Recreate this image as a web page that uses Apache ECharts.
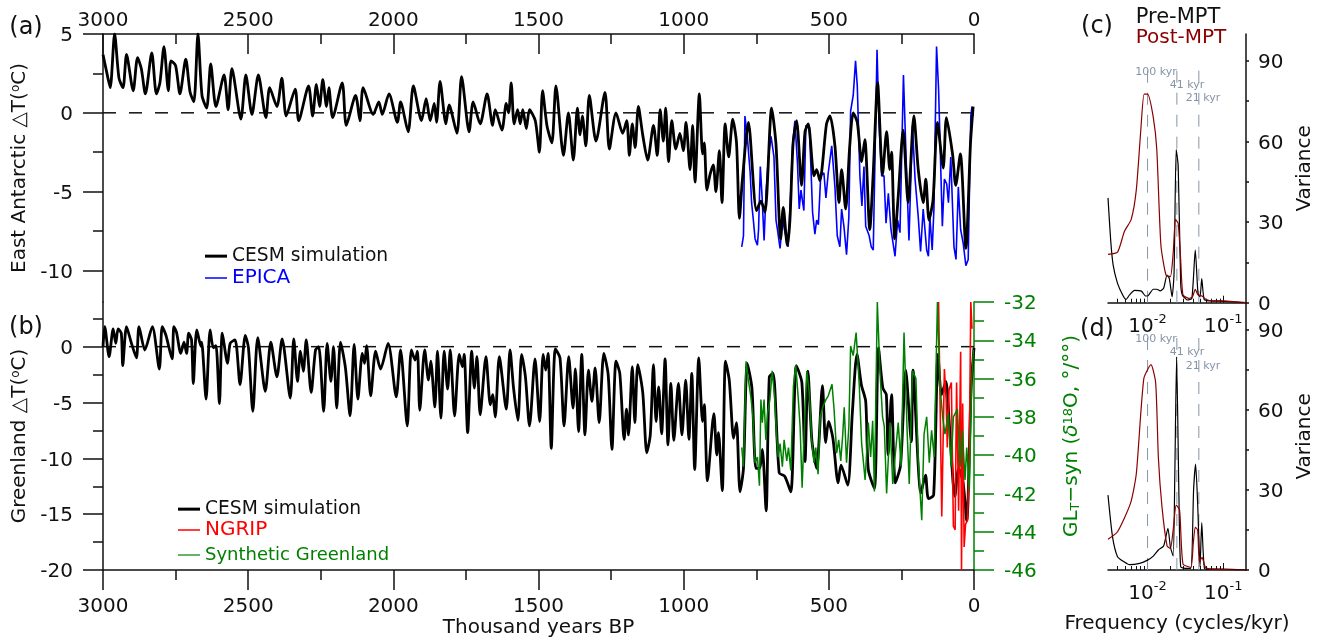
<!DOCTYPE html>
<html>
<head>
<meta charset="utf-8">
<title>CESM temperature</title>
<script src="https://cdn.jsdelivr.net/npm/echarts@6/dist/echarts.min.js"></script>
<style>
html,body{margin:0;padding:0;background:#fff}
#chart{width:1320px;height:640px}
</style>
</head>
<body>
<div id="chart"></div>
<script>
// [thousand years BP, value]
var antarcticCesm = [[3000,3.7],[2983,2.2],[2975,1.6],[2960,5.0],[2945,2.2],[2931,1.6],[2919,3.7],[2896,1.4],[2881,3.5],[2868,2.8],[2854,1.2],[2832,3.8],[2816,1.2],[2804,1.9],[2790,4.2],[2775,1.4],[2766,3.3],[2750,3.0],[2735,1.2],[2715,3.4],[2700,1.3],[2687,0.7],[2673,5.0],[2659,1.1],[2643,0.3],[2629,3.1],[2611,0.4],[2583,2.4],[2569,0.2],[2556,2.8],[2525,-0.4],[2508,2.4],[2487,-0.1],[2465,2.4],[2439,-0.3],[2426,1.6],[2401,0.4],[2384,2.2],[2369,-0.2],[2338,1.5],[2326,-0.5],[2292,1.7],[2278,-0.2],[2265,1.8],[2254,0.4],[2243,2.1],[2230,0.4],[2222,1.6],[2209,-0.3],[2176,1.9],[2162,-0.8],[2130,1.1],[2115,-0.5],[2104,1.6],[2069,-0.1],[2050,0.7],[2038,-0.1],[2015,1.2],[1986,-0.6],[1975,0.7],[1949,-1.2],[1931,1.7],[1903,-0.5],[1887,0.9],[1873,-0.5],[1859,0.6],[1851,-0.6],[1839,2.0],[1819,-0.7],[1808,0.5],[1781,-1.3],[1765,2.3],[1739,-1.2],[1725,0.7],[1701,-0.7],[1677,1.2],[1658,-0.8],[1649,0.2],[1626,-1.1],[1611,0.6],[1603,0],[1594,1.9],[1584,-0.7],[1572,0.2],[1563,-0.7],[1554,0.2],[1542,-1.0],[1531,0.2],[1511,-0.5],[1497,-2.5],[1486,1.4],[1471,-0.8],[1454,-1.9],[1440,1.7],[1414,-2.7],[1397,0],[1380,-3.0],[1366,0.3],[1357,-1.4],[1349,-0.2],[1337,-2.1],[1325,1.1],[1302,-1.8],[1271,1.3],[1256,-2.3],[1233,0],[1210,-1.3],[1196,-0.5],[1187,-2.7],[1177,-0.7],[1167,-2.2],[1156,0.4],[1141,-1.4],[1124,-3.0],[1104,-0.8],[1091,-2.7],[1081,0.2],[1070,-1.8],[1062,0.3],[1052,-3.1],[1041,-0.5],[1027,-2.3],[1013,-1.3],[1001,-2.4],[992,-0.6],[978,-3.6],[969,-0.8],[961,-4.4],[946,1.2],[935,-2.6],[929,-1.9],[920,-4.9],[909,-3.9],[898,-3.3],[889,-5.0],[877,-2.4],[868,-5.7],[857,-0.7],[845,-2.8],[831,-0.4],[818,-1.9],[808,-6.7],[798,-4.3],[777,-0.6],[749,-6.2],[734,-5.6],[720,-6.3],[697,0.3],[682,-2.0],[666,-8.0],[657,-6.0],[643,-8.4],[634,-6.8],[623,-1.9],[611,-0.5],[594,-4.6],[582,-1.2],[571,-0.7],[551,-4.0],[542,-3.6],[531,-4.3],[508,-0.7],[496,-0.2],[479,-2.1],[465,-5.7],[456,-3.6],[442,-6.1],[428,-2.1],[416,0],[402,-0.6],[387,-3.1],[376,-1.7],[359,-7.4],[347,-3.8],[332,1.9],[315,-3.9],[301,-1.2],[290,-3.6],[284,-2.5],[273,-8.0],[261,-5.3],[244,-1.1],[227,-5.7],[207,-0.2],[192,-3.6],[175,-5.7],[166,-4.2],[155,-6.8],[141,-5.5],[126,-0.6],[106,-3.5],[95,-0.3],[74,-2.6],[63,-4.6],[47,-2.6],[28,-8.6],[12,-1.9],[3,0.4]];
var epica = [[800,-8.5],[794,-7.8],[789,-0.2],[780,-1.7],[771,-3.8],[766,-5.7],[760,-6.8],[754,-8.0],[746,-8.4],[742,-7.4],[736,-3.4],[730,-5.3],[723,-8.1],[716,-4.9],[708,-2.8],[699,-1.5],[689,-2.8],[682,-6.8],[677,-7.4],[668,-8.6],[659,-6.8],[651,-7.6],[640,-8.5],[631,-4.9],[625,-2.1],[617,-0.5],[608,-3.2],[602,-6.1],[596,-4.9],[586,-6.2],[579,-0.8],[567,-0.9],[561,-3.8],[556,-6.3],[548,-7.7],[542,-6.8],[536,-7.1],[528,-4.0],[517,-3.8],[510,-5.4],[502,-3.8],[490,-2.1],[479,-4.7],[471,-7.8],[462,-8.5],[456,-6.1],[448,-7.2],[439,-9.0],[431,-6.6],[425,0.1],[416,1.1],[408,3.3],[402,1.7],[393,-4.0],[386,-5.9],[379,-3.4],[373,-7.2],[361,-7.8],[354,-8.5],[347,-8.7],[334,4.0],[327,-0.7],[318,-4.0],[310,-4.0],[303,-7.0],[295,-5.1],[286,-7.4],[272,-9.1],[263,-6.8],[255,-7.6],[243,2.4],[234,-2.8],[224,-8.1],[212,-0.8],[203,-4.2],[192,-6.6],[184,-8.8],[175,-6.1],[163,-8.7],[157,-9.1],[152,-6.6],[144,-8.7],[138,-6.1],[129,4.2],[122,1.5],[109,-7.2],[102,-4.2],[94,-4.5],[88,-5.7],[80,-2.8],[69,-8.5],[62,-9.3],[54,-4.7],[46,-7.4],[37,-8.3],[28,-9.7],[20,-9.3],[11,-0.2],[7,0.4],[3,-0.2]];
var greenlandCesm = [[3000,0],[2994,1.8],[2979,-0.9],[2965,1.6],[2956,0.3],[2948,1.6],[2937,1.2],[2932,-1.7],[2919,1.8],[2902,0.3],[2885,-1.0],[2876,1.8],[2856,-0.3],[2830,1.8],[2806,-2.0],[2796,1.8],[2783,1.0],[2762,-1.1],[2756,1.8],[2747,1.3],[2732,-0.6],[2721,0.4],[2712,-0.6],[2705,1.2],[2695,0.6],[2689,-3.3],[2677,1.5],[2662,0],[2660,0.4],[2645,-4.7],[2631,1.5],[2620,-0.1],[2611,0.1],[2599,-5.1],[2589,1.2],[2571,-1.5],[2562,0.3],[2545,0.6],[2528,-3.4],[2510,1.0],[2499,-0.1],[2484,-5.8],[2467,0.8],[2441,-4.0],[2422,0.4],[2401,-2.7],[2383,0.7],[2355,-4.6],[2343,0.7],[2330,-3.1],[2320,-0.4],[2310,-2.2],[2300,0.6],[2283,-4.1],[2268,-0.3],[2257,0],[2240,-5.8],[2228,0.3],[2215,-3.1],[2206,0],[2195,-5.5],[2182,0.4],[2165,-1.9],[2149,-6.2],[2135,0.2],[2122,-4.7],[2107,-0.6],[2099,-1.5],[2092,0.1],[2078,-4.4],[2061,-0.4],[2044,-2.0],[2018,0.3],[1990,-4.5],[1975,-0.3],[1952,-7.1],[1938,-0.3],[1925,-1.2],[1917,-0.4],[1909,-5.7],[1892,-0.3],[1879,-3.0],[1871,-1.3],[1857,-5.4],[1848,-0.4],[1836,-6.4],[1825,-0.4],[1813,-3.8],[1804,-0.3],[1789,-6.2],[1773,-0.7],[1762,-1.8],[1756,-0.7],[1744,-7.7],[1730,-0.4],[1721,-3.7],[1712,-0.9],[1701,-6.1],[1681,-0.9],[1666,-5.2],[1658,-4.3],[1649,-6.3],[1635,-0.9],[1611,-5.6],[1598,-0.3],[1586,-3.7],[1571,-6.6],[1558,-0.7],[1545,-2.7],[1531,-7.1],[1512,-1.1],[1496,-6.7],[1484,-0.7],[1475,-2.1],[1467,-0.6],[1456,-9.1],[1442,-0.2],[1426,-1.0],[1412,-7.1],[1396,-0.9],[1381,-5.5],[1373,-2.0],[1362,-7.6],[1351,-0.7],[1340,-7.9],[1328,-2.1],[1316,-4.9],[1305,-1.9],[1291,-6.8],[1275,-0.6],[1260,-2.5],[1247,-9.2],[1233,-1.3],[1220,-2.4],[1205,-8.3],[1197,-5.6],[1190,-7.9],[1177,-1.8],[1168,-6.8],[1158,-1.6],[1141,-4.1],[1127,-9.5],[1115,-7.9],[1104,-1.6],[1095,-6.7],[1086,-3.6],[1076,-7.8],[1064,-1.1],[1054,-8.8],[1044,-3.3],[1034,-8.4],[1018,-3.3],[1006,-7.9],[993,-3.0],[982,-8.3],[972,-2.4],[962,-11.0],[948,-1.0],[935,-6.7],[929,-5.2],[918,-12.0],[896,-6.0],[886,-9.7],[880,-7.7],[867,-12.9],[856,-1.3],[843,-3.0],[828,-8.2],[818,-6.8],[806,-13.0],[794,-10.9],[781,-1.5],[765,-3.7],[751,-10.9],[738,-10.9],[729,-9.2],[716,-14.7],[705,-2.7],[692,-2.4],[671,-11.3],[652,-11.6],[631,-13.0],[612,-1.7],[593,-3.2],[582,-10.3],[572,-2.2],[558,-8.5],[542,-10.9],[522,-3.5],[511,-8.6],[501,-6.7],[486,-8.2],[468,-12.2],[458,-10.6],[435,-12.4],[419,-5.9],[403,-0.7],[388,-3.4],[373,-4.9],[364,-11.0],[343,-12.7],[329,-0.1],[314,-3.7],[302,-4.3],[296,-9.7],[284,-4.3],[271,-12.2],[253,-10.6],[235,-2.1],[216,-8.5],[210,-2.1],[183,-13.1],[167,-11.5],[157,-13.6],[139,-13.3],[124,-0.7],[112,-4.3],[97,-3.1],[84,-7.3],[66,-13.4],[53,-10.9],[38,-12.1],[25,-15.6],[10,-3.7],[0,-0.1]];
var ngrip = [[122,-32],[111,-43.2],[102,-35.5],[96,-37.1],[92,-39.6],[86,-36.6],[78,-36.2],[71,-43.7],[65,-43.9],[60,-36.2],[53,-42.9],[46,-34.6],[43,-46],[39,-37.3],[34,-44.8],[29,-43.6],[22,-43.4],[16,-39.5],[11,-32],[7,-33.4]];
var syntheticGreenland = [[800,-39.6],[794,-40.6],[785,-35.1],[777,-36.1],[769,-36.9],[762,-37.9],[754,-40.4],[746,-40.1],[739,-41.6],[734,-37.1],[729,-38.3],[723,-37.1],[717,-39.2],[711,-37.8],[703,-37.1],[695,-35.6],[687,-36.9],[680,-39.0],[674,-40.1],[668,-39.4],[660,-40.6],[654,-39.2],[645,-40.3],[639,-39.6],[631,-40.8],[622,-36.4],[614,-35.3],[605,-37.1],[599,-38.5],[592,-41.7],[585,-38.9],[576,-35.6],[567,-36.8],[559,-39.2],[551,-40.4],[545,-39.6],[537,-41.0],[530,-38.0],[521,-37.5],[510,-37.1],[502,-36.9],[489,-36.3],[482,-37.6],[473,-39.9],[466,-39.2],[459,-40.3],[452,-38.9],[447,-37.5],[439,-40.4],[431,-38.5],[425,-34.3],[416,-34.8],[406,-33.6],[395,-36.4],[387,-39.4],[375,-41.3],[364,-38.3],[356,-40.1],[349,-38.2],[343,-41.9],[333,-32.0],[324,-35.6],[315,-38.0],[309,-38.5],[301,-42.0],[289,-38.3],[280,-41.5],[272,-40.1],[261,-38.3],[251,-40.6],[241,-33.6],[230,-38.9],[223,-41.5],[212,-35.6],[200,-36.0],[192,-40.3],[180,-43.4],[172,-38.9],[163,-38.0],[154,-40.4],[146,-38.7],[137,-40.1],[126,-32.0],[117,-36.4],[108,-38.0],[100,-38.9],[88,-37.8],[79,-40.6],[71,-38.0],[57,-37.6],[48,-40.6],[40,-38.7],[31,-41.3],[25,-39.6],[16,-41.8],[8,-36.1],[2,-34.5]];
var zeroLine = [[3000,0],[0,0]];

// [cycles/kyr, variance]
var antarcticPre = [[0.003,39],[0.00326,23],[0.00351,14],[0.00401,7.2],[0.00469,2.9],[0.0052,1.2],[0.00577,2.9],[0.00674,4.6],[0.0083,4.3],[0.0094,2.5],[0.01,2.5],[0.0119,5],[0.01324,5],[0.01468,4.4],[0.0163,5.4],[0.0181,10.3],[0.0194,9],[0.0211,2.2],[0.0224,11],[0.0239,57],[0.0254,51],[0.0274,7.2],[0.0288,2.9],[0.0337,1],[0.0385,1.6],[0.0427,19.6],[0.0464,3.5],[0.0494,2.2],[0.052,9],[0.056,1.2],[0.066,0.7],[0.1,0.5],[0.2,0]];
var antarcticPost = [[0.003,18],[0.00401,18.8],[0.00494,26.5],[0.00608,31],[0.0071,42],[0.00813,64],[0.00901,77.6],[0.01,77.6],[0.0119,69],[0.01324,57],[0.015,21.5],[0.0175,10.3],[0.02,9.7],[0.0218,18.4],[0.0234,31],[0.0254,29.5],[0.0274,16],[0.0294,2.9],[0.0355,1.6],[0.0393,2.2],[0.0427,5],[0.0464,2.9],[0.0525,2.5],[0.0596,1.2],[0.0733,0.7],[0.1,0.7],[0.151,0.3],[0.2,0]];
var greenlandPre = [[0.003,28],[0.00344,12.5],[0.00401,5],[0.00494,3],[0.00577,2],[0.00787,2.5],[0.01,3.7],[0.0119,5.2],[0.0139,7.5],[0.0163,9],[0.0186,15.6],[0.02,8.7],[0.0218,5.2],[0.0229,35],[0.0242,79.7],[0.026,27],[0.0274,1.2],[0.0313,0.6],[0.0373,0.6],[0.0406,30],[0.0432,39.6],[0.0459,25],[0.0494,1.2],[0.052,17.7],[0.0565,0.6],[0.066,0.3],[0.1,0.3],[0.2,0]];
var greenlandPost = [[0.003,11.5],[0.00401,14.3],[0.00596,25],[0.0071,36],[0.00892,71.6],[0.0111,76.8],[0.0128,70],[0.0139,42],[0.0155,23.7],[0.0181,9],[0.02,8],[0.0218,15],[0.0239,24.3],[0.0265,22.4],[0.0294,2.2],[0.0373,1],[0.0402,10],[0.0427,16],[0.0459,15],[0.0484,3],[0.0525,4.7],[0.0583,1],[0.0733,0.3],[0.151,0],[0.2,0]];

var orbitalFreq = [0.01, 0.0244, 0.0476];
var orbitalTop = 90;
var decadeTicks = [0.01, 0.1];
var logMinorTicks = [0.004,0.005,0.006,0.007,0.008,0.009,0.02,0.03,0.04,0.05,0.06,0.07,0.08,0.09];

var chart = echarts.init(document.getElementById('chart'));
var FONT = 'DejaVu Sans';
var INK = '#111';
var GREEN = '#008000';
var DARKRED = '#8b0000';
var GREY = '#8595a8';
var plain = function (v) { return String(v); };

function ageAxis(gridIndex, position) {
  var top = position === 'top';
  return {
    type: 'value', gridIndex: gridIndex, position: position, inverse: true,
    min: 0, max: 3000, interval: 500,
    axisLine: {onZero: false, lineStyle: {color: INK, width: 1.5}},
    axisTick: {inside: top, length: 20, lineStyle: {color: INK, width: 1.5}},
    minorTick: {show: true, splitNumber: 2, length: 10, lineStyle: {color: INK, width: 1.5}},
    axisLabel: {fontSize: 20, color: INK, margin: top ? 3 : 27, formatter: plain},
    splitLine: {show: false}
  };
}
function tempAxis(gridIndex, min, max, labels, name) {
  return {
    type: 'value', gridIndex: gridIndex, position: 'left', min: min, max: max,
    axisLine: {onZero: false, lineStyle: {color: INK, width: 1.5}},
    axisTick: {length: 20, customValues: labels, lineStyle: {color: INK, width: 1.5}},
    axisLabel: {fontSize: 20, color: INK, margin: 30, customValues: labels, formatter: plain, verticalAlign: 'top', lineHeight: 4},
    splitLine: {show: false},
    name: name, nameLocation: 'middle', nameGap: 70, nameRotate: 90,
    nameTextStyle: {fontSize: 20, color: INK, rich: {
      m: {fontSize: 20, fontFamily: FONT},
      sup: {fontSize: 12, verticalAlign: 'top', fontFamily: FONT}
    }}
  };
}
function minorTempAxis(gridIndex, min, max, values) {
  return {
    type: 'value', gridIndex: gridIndex, position: 'left', min: min, max: max,
    axisLine: {show: false},
    axisTick: {length: 10, customValues: values, lineStyle: {color: INK, width: 1.5}},
    axisLabel: {show: false, customValues: values},
    splitLine: {show: false}
  };
}
function varianceAxis(gridIndex) {
  return {
    type: 'value', gridIndex: gridIndex, position: 'right', min: 0, max: 100,
    axisLine: {onZero: false, lineStyle: {color: INK, width: 1.5}},
    axisTick: {length: 3, customValues: [0,15,30,45,60,75,90], lineStyle: {color: INK, width: 1.5}},
    axisLabel: {fontSize: 20, color: INK, margin: 12, customValues: [0,30,60,90], formatter: plain, verticalAlign: 'top', lineHeight: 4},
    splitLine: {show: false},
    name: 'Variance', nameLocation: 'middle', nameGap: 49, nameRotate: 90,
    nameTextStyle: {fontSize: 20, color: INK}
  };
}
function freqAxis(gridIndex, extra) {
  var ax = {
    type: 'log', logBase: 10, gridIndex: gridIndex, position: 'bottom', min: 0.003, max: 0.2,
    axisLine: {onZero: false, lineStyle: {color: INK, width: 1.5}},
    axisTick: {inside: true, length: 7, customValues: decadeTicks, lineStyle: {color: INK, width: 1}},
    axisLabel: {
      margin: 10, customValues: decadeTicks,
      formatter: function (v) { return '{b|10}{s|' + Math.round(Math.log10(v)) + '}'; },
      rich: {
        b: {fontSize: 20, color: INK, fontFamily: FONT, verticalAlign: 'bottom', lineHeight: 24},
        s: {fontSize: 13, color: INK, fontFamily: FONT, verticalAlign: 'top', lineHeight: 24}
      }
    },
    splitLine: {show: false}
  };
  return Object.assign(ax, extra || {});
}
function minorFreqAxis(gridIndex) {
  return {
    type: 'log', logBase: 10, gridIndex: gridIndex, position: 'bottom', min: 0.003, max: 0.2,
    axisLine: {show: false},
    axisTick: {inside: true, length: 4, customValues: logMinorTicks, lineStyle: {color: INK, width: 1}},
    axisLabel: {show: false, customValues: logMinorTicks},
    splitLine: {show: false}
  };
}
function hiddenAxis(gridIndex) {
  return {type: 'value', gridIndex: gridIndex, show: false, min: 0, max: 1};
}
function line(name, x, y, data, color, width, extra) {
  return Object.assign({
    name: name, type: 'line', xAxisIndex: x, yAxisIndex: y, data: data,
    showSymbol: false, symbol: 'none', silent: true, clip: true,
    lineStyle: {color: color, width: width},
    itemStyle: {color: color}
  }, extra || {});
}
function zero(x, y) {
  return {type: 'line', xAxisIndex: x, yAxisIndex: y, data: zeroLine, symbol: 'none', silent: true,
    lineStyle: {color: INK, width: 1.5, type: [13, 13]}};
}
function orbital(x, y) {
  return orbitalFreq.map(function (f) {
    return {type: 'line', xAxisIndex: x, yAxisIndex: y, data: [[f, 0], [f, orbitalTop]], symbol: 'none', silent: true,
      lineStyle: {color: GREY, width: 1, type: [12, 10]}};
  });
}
function note(text, x, y, size, color) {
  return {type: 'text', x: x, y: y, silent: true, style: {
    text: text, fontSize: size, fontFamily: FONT, fill: color, align: 'center', verticalAlign: 'middle'
  }};
}
function key(name, color, size, x, y, thick) {
  return {
    left: x, top: y - size / 2 + 2, padding: 0, selectedMode: false, icon: 'rect',
    itemWidth: 22, itemHeight: thick,
    data: [{name: name, textStyle: {color: color, fontSize: size}}]
  };
}

var panelRects = [
  {left: 103, width: 871, top: 34, height: 268},
  {left: 103, width: 871, top: 302, height: 268},
  {left: 1108, width: 138, top: 34, height: 268.7},
  {left: 1108, width: 138, top: 302.7, height: 267.3}
];

var option = {
  animation: false,
  backgroundColor: '#fff',
  textStyle: {fontFamily: FONT},
  // the last four grids sit on the first four and only carry the short ticks
  grid: panelRects.concat(panelRects),
  xAxis: [
    ageAxis(0, 'top'),
    Object.assign(ageAxis(1, 'bottom'), {
      name: 'Thousand years BP', nameLocation: 'middle', nameGap: 47,
      nameTextStyle: {fontSize: 20, color: INK}
    }),
    freqAxis(2),
    freqAxis(3, {name: 'Frequency (cycles/kyr)', nameLocation: 'middle', nameGap: 44,
      nameTextStyle: {fontSize: 20, color: INK}}),
    hiddenAxis(4),
    hiddenAxis(5),
    minorFreqAxis(6),
    minorFreqAxis(7)
  ],
  yAxis: [
    tempAxis(0, -12, 5, [-10, -5, 0, 5], '{m|East Antarctic △T(}{sup|o}{m|C)}'),
    tempAxis(1, -20, 4, [-20, -15, -10, -5, 0], '{m|Greenland △T(}{sup|o}{m|C)}'),
    {
      type: 'value', gridIndex: 1, position: 'right', min: -46, max: -32, interval: 2,
      axisLine: {onZero: false, lineStyle: {color: GREEN, width: 1.5}},
      axisTick: {length: 20, lineStyle: {color: GREEN, width: 1.5}},
      minorTick: {show: true, splitNumber: 2, length: 10, lineStyle: {color: GREEN, width: 1.5}},
      axisLabel: {fontSize: 20, color: GREEN, margin: 30, formatter: plain, verticalAlign: 'top', lineHeight: 4},
      splitLine: {show: false},
      name: '{m|GL}{sub|T}{m|−syn (}{i|δ}{sup|18}{m|O, °/°°)}',
      nameLocation: 'middle', nameGap: 88, nameRotate: 90,
      nameTextStyle: {fontSize: 20, color: GREEN, rich: {
        m: {fontSize: 20, color: GREEN, fontFamily: FONT},
        i: {fontSize: 20, color: GREEN, fontFamily: FONT, fontStyle: 'italic'},
        sub: {fontSize: 13, color: GREEN, fontFamily: FONT, verticalAlign: 'bottom'},
        sup: {fontSize: 13, color: GREEN, fontFamily: FONT, verticalAlign: 'top'}
      }}
    },
    varianceAxis(2),
    varianceAxis(3),
    minorTempAxis(4, -12, 5, [-7.5, -2.5, 2.5]),
    minorTempAxis(5, -20, 4, [-17.5, -12.5, -7.5, -2.5, 2.5]),
    hiddenAxis(6),
    hiddenAxis(7)
  ],
  legend: [
    key('CESM simulation', INK, 18.7, 205, 254, 3),
    key('EPICA', '#0000ff', 20, 205, 276, 1.5),
    key('CESM simulation', INK, 18.7, 178, 507, 3),
    key('NGRIP', '#ff0000', 20, 178, 528, 1.5),
    key('Synthetic Greenland', GREEN, 18, 178, 553, 1.2)
  ],
  series: [
    zero(0, 0),
    line('EPICA', 0, 0, epica, '#0000ff', 1.6),
    line('CESM simulation', 0, 0, antarcticCesm, '#000', 2.8, {smooth: 0.25}),
    zero(1, 1),
    line('CESM simulation', 1, 1, greenlandCesm, '#000', 2.8, {smooth: 0.25}),
    line('NGRIP', 1, 2, ngrip, '#ff0000', 1.6),
    line('Synthetic Greenland', 1, 2, syntheticGreenland, GREEN, 1.5)
  ].concat(orbital(2, 3), orbital(3, 4), [
    line('', 2, 3, antarcticPre, '#000', 1.2, {smooth: 0.2}),
    line('', 2, 3, antarcticPost, DARKRED, 1.2, {smooth: 0.2}),
    line('', 3, 4, greenlandPre, '#000', 1.2, {smooth: 0.2}),
    line('', 3, 4, greenlandPost, DARKRED, 1.2, {smooth: 0.2})
  ]),
  graphic: [
    note('(a)', 26, 28, 24, INK),
    note('(b)', 26, 328, 24, INK),
    note('(c)', 1097, 27, 24, INK),
    note('(d)', 1097, 330, 24, INK),
    note('Pre-MPT', 1178, 18, 21, INK),
    note('Post-MPT', 1181, 38, 20, DARKRED),
    note('100 kyr', 1156, 72, 11, GREY),
    note('41 kyr', 1187, 85, 11, GREY),
    note('21 kyr', 1203, 98, 11, GREY),
    note('100 kyr', 1156, 339, 11, GREY),
    note('41 kyr', 1187, 352, 11, GREY),
    note('21 kyr', 1203, 366, 11, GREY)
  ]
};
chart.setOption(option);
</script>
</body>
</html>
